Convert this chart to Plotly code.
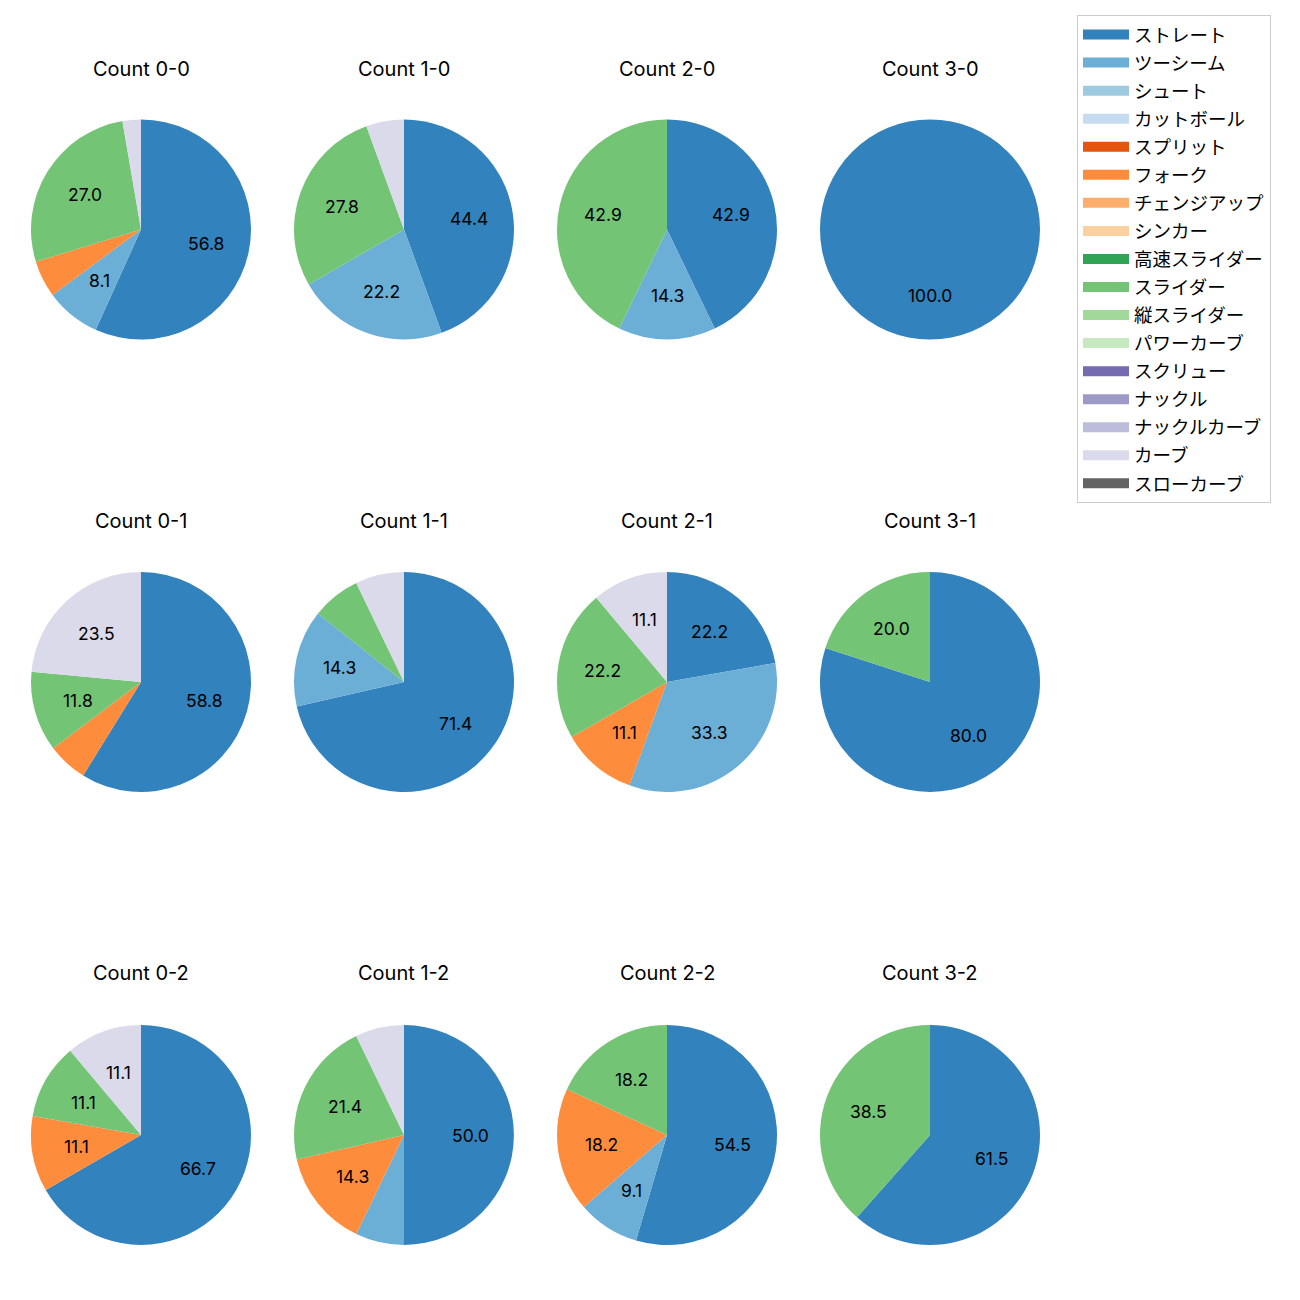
import math
import plotly.graph_objects as go

# ---- data ----
pitch_types = ["ストレート", "ツーシーム", "シュート", "カットボール", "スプリット", "フォーク",
               "チェンジアップ", "シンカー", "高速スライダー", "スライダー", "縦スライダー",
               "パワーカーブ", "スクリュー", "ナックル", "ナックルカーブ", "カーブ", "スローカーブ"]
colors = ["#3182bd", "#6baed6", "#9ecae1", "#c6dbef", "#e6550d", "#fd8d3c", "#fdae6b", "#fdd0a2",
          "#31a354", "#74c476", "#a1d99b", "#c7e9c0", "#756bb1", "#9e9ac8", "#bcbddc", "#dadaeb",
          "#636363"]

count_titles = ["Count 0-0", "Count 1-0", "Count 2-0", "Count 3-0",
                "Count 0-1", "Count 1-1", "Count 2-1", "Count 3-1",
                "Count 0-2", "Count 1-2", "Count 2-2", "Count 3-2"]

# pitch counts per count situation (only non-zero types listed)
c00 = {"ストレート": 21, "ツーシーム": 3, "フォーク": 2, "スライダー": 10, "カーブ": 1}
c10 = {"ストレート": 8, "ツーシーム": 4, "スライダー": 5, "カーブ": 1}
c20 = {"ストレート": 3, "ツーシーム": 1, "スライダー": 3}
c30 = {"ストレート": 1}
c01 = {"ストレート": 10, "フォーク": 1, "スライダー": 2, "カーブ": 4}
c11 = {"ストレート": 10, "ツーシーム": 2, "スライダー": 1, "カーブ": 1}
c21 = {"ストレート": 2, "ツーシーム": 3, "フォーク": 1, "スライダー": 2, "カーブ": 1}
c31 = {"ストレート": 4, "スライダー": 1}
c02 = {"ストレート": 6, "フォーク": 1, "スライダー": 1, "カーブ": 1}
c12 = {"ストレート": 7, "ツーシーム": 1, "フォーク": 2, "スライダー": 3, "カーブ": 1}
c22 = {"ストレート": 6, "ツーシーム": 1, "フォーク": 2, "スライダー": 2}
c32 = {"ストレート": 8, "スライダー": 5}
count_data = [c00, c10, c20, c30, c01, c11, c21, c31, c02, c12, c22, c32]

# ---- layout ----
W = H = 1300
col_cx = [141, 404, 667, 930]
row_cy = [229.5, 682, 1135]
title_y = [69, 521, 973]
R = 110
color_map = dict(zip(pitch_types, colors))
FONT = "Inter, Noto Sans CJK JP"
JFONT = "Noto Sans CJK JP"

fig = go.Figure()
annotations = []
for i, (title, d) in enumerate(zip(count_titles, count_data)):
    r, c = divmod(i, 4)
    cx, cy = col_cx[c], row_cy[r]
    labels = [p for p in pitch_types if d.get(p, 0) > 0]
    vals = [d[p] for p in labels]
    total = sum(vals)
    fig.add_trace(go.Pie(
        labels=labels, values=vals, sort=False, direction="clockwise", rotation=0,
        marker=dict(colors=[color_map[p] for p in labels], line=dict(width=0)),
        textinfo="none", showlegend=False, hoverinfo="label+percent",
        domain=dict(x=[(cx - R) / W, (cx + R) / W], y=[1 - (cy + R) / H, 1 - (cy - R) / H]),
    ))
    # percentage labels at 0.6 radius (matplotlib style)
    cum = 0
    for p, v in zip(labels, vals):
        pct = v / total * 100
        mid = 90 - (cum + v / 2) / total * 360
        cum += v
        if pct >= 8:
            tx = cx + 0.6 * R * math.cos(math.radians(mid))
            ty = cy - 0.6 * R * math.sin(math.radians(mid))
            annotations.append(dict(x=tx / W, y=1 - ty / H, xref="paper", yref="paper",
                                    xanchor="center", yanchor="middle",
                                    text=f"{pct:.1f}", showarrow=False,
                                    font=dict(size=17.5, color="black", family=FONT)))
    annotations.append(dict(x=cx / W, y=1 - title_y[r] / H, xref="paper", yref="paper",
                            xanchor="center", yanchor="middle",
                            text=title, showarrow=False,
                            font=dict(size=20, color="black", family=FONT)))

# legend entries as thick line segments (rectangle patches)
for p, col in zip(pitch_types, colors):
    fig.add_trace(go.Scatter(x=[None], y=[None], mode="lines", name=p,
                             line=dict(color=col, width=14), legendgroup=p, showlegend=True))

fig.update_layout(
    width=W, height=H, margin=dict(l=0, r=0, t=0, b=0),
    paper_bgcolor="white", plot_bgcolor="white",
    xaxis=dict(visible=False), yaxis=dict(visible=False),
    annotations=annotations,
    legend=dict(x=1077 / W, y=1 - 15 / H, xanchor="left", yanchor="top",
                bordercolor="#cccccc", borderwidth=1, bgcolor="white",
                font=dict(size=18.5, family=JFONT, color="black"),
                traceorder="grouped", tracegroupgap=1, itemwidth=46),
    font=dict(family=FONT),
)
fig.write_html("out.html")
